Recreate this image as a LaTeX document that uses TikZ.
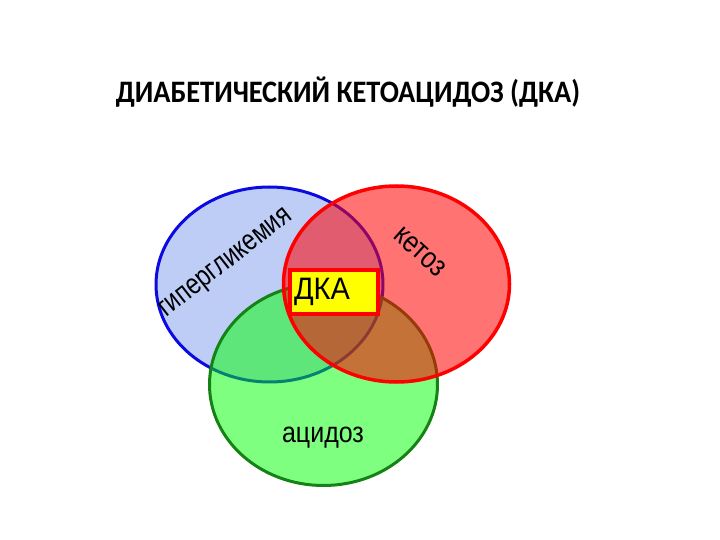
\documentclass[tikz,border=0pt]{standalone}
\usepackage{fontspec}
\setmainfont{Liberation Sans}
\newfontfamily\titlefont{Carlito}
\usetikzlibrary{shapes.geometric}
\definecolor{bluefill}{RGB}{190,205,245}
\definecolor{blueline}{RGB}{10,10,225}
\definecolor{greenline}{RGB}{20,130,20}
\definecolor{redline}{RGB}{255,0,0}
\definecolor{greenfill}{RGB}{0,255,0}
\definecolor{dkayellow}{RGB}{255,255,0}
\newcommand{\tallen}[2]{\scalebox{1}[#1]{#2}}
\tikzset{
  venn/.style={ellipse, inner sep=0pt, line width=3pt},
  bluevenn/.style={venn, draw=blueline, fill=bluefill, minimum width=227pt, minimum height=195pt},
  greenvenn/.style={venn, draw=greenline, fill=greenfill, fill opacity=0.5, minimum width=228pt, minimum height=202pt},
  redvenn/.style={venn, draw=redline, fill=redline, fill opacity=0.55, line width=3.5pt, minimum width=226pt, minimum height=196pt},
  lbl/.style={inner sep=0pt, font=\fontsize{25}{28}\selectfont, text=black},
  dkabox/.style={draw=redline, fill=dkayellow, line width=4pt, minimum width=88pt, minimum height=44pt, text width=80pt, align=left, inner xsep=4pt, inner ysep=0pt, font=\fontsize{29}{32}\selectfont},
  titlestyle/.style={inner sep=0pt, font=\titlefont\bfseries\fontsize{28.4}{32}\selectfont}
}
\begin{document}
\begin{tikzpicture}[x=1pt,y=-1pt]
\useasboundingbox (0,0) rectangle (720,540);
\node[titlestyle, anchor=base] (title) at (348,103) {\tallen{1.1}{ДИАБЕТИЧЕСКИЙ КЕТОАЦИДОЗ (ДКА)}};
\node[bluevenn] (hyper) at (269.5,284.5) {};
\node[greenvenn] (acid) at (323.5,384.5) {};
\node[redvenn] (keto) at (396.5,284) {};
\node[lbl, font=\fontsize{23.5}{26}\selectfont, rotate=38, anchor=base west] (hyperlbl) at (166,318) {\tallen{1.25}{гипергликемия}};
\node[lbl, rotate=-42] (ketolbl) at (420,252) {\tallen{1.2}{кетоз}};
\node[lbl, anchor=base] (acidlbl) at (323,442) {\tallen{1.15}{ацидоз}};
\node[dkabox] (dka) at (334,292) {\tallen{1.07}{ДКА}};
\end{tikzpicture}
\end{document}
